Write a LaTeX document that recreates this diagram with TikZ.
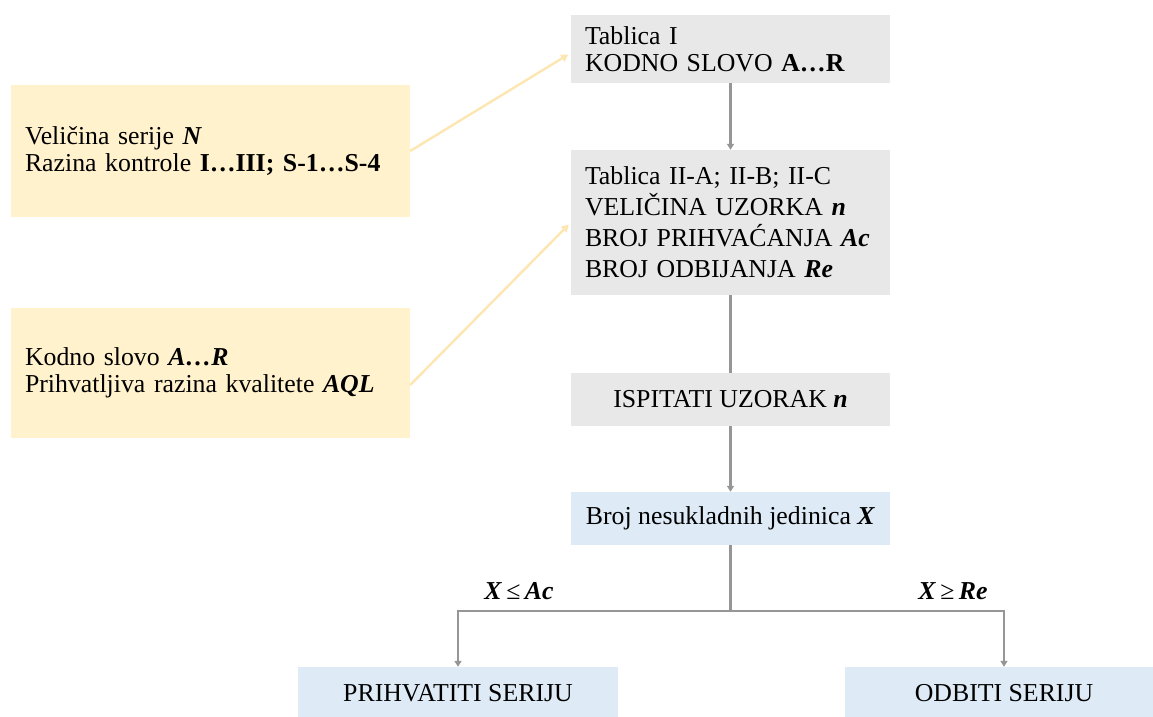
\documentclass[tikz,border=0pt]{standalone}
\usepackage{fontspec}
\setmainfont{Liberation Serif}
\usetikzlibrary{arrows.meta}
\definecolor{yfill}{RGB}{255,242,204}
\definecolor{gfill}{RGB}{232,232,232}
\definecolor{bfill}{RGB}{222,235,247}
\definecolor{lgray}{RGB}{150,150,150}
\definecolor{yarrow}{RGB}{253,230,178}
\newcommand{\bi}[1]{\textbf{\textit{#1}}}
\tikzset{
  base/.style={rectangle, inner ysep=0pt, font=\fontsize{25.8}{27}\selectfont, text=black},
  ybox/.style={base, fill=yfill, minimum height=#1, text width=371pt, inner xsep=14pt, align=left},
  gleft/.style={base, fill=gfill, minimum height=#1, text width=291pt, inner xsep=14pt, align=left},
  gbox/.style={base, fill=gfill, minimum height=53pt, minimum width=319pt, inner xsep=0pt},
  bbox/.style={base, fill=bfill, minimum height=53pt, minimum width=#1, inner xsep=0pt},
  conn/.style={draw=lgray, line width=2.2pt},
  arr/.style={conn, -{Triangle[width=7pt,length=6pt]}},
  yarr/.style={draw=yarrow, line width=2.4pt, -{Triangle[width=8pt,length=7pt]}},
  lbl/.style={font=\fontsize{25.8}{27}\selectfont, inner sep=0pt}
}
\begin{document}
\begin{tikzpicture}[x=1pt,y=-1pt]
\useasboundingbox (0,0) rectangle (1153,716);
% left input boxes
\node[ybox=132pt] (y1) at (210.5,151) {Veličina serije \bi{N}\\Razina kontrole \textbf{I…III; S-1…S-4}};
\node[ybox=130pt] (y2) at (210.5,373) {Kodno slovo \bi{A…R}\\Prihvatljiva razina kvalitete \bi{AQL}};
% main column
\node[gleft=68pt] (t1) at (730.5,49) {Tablica I\\KODNO SLOVO \textbf{A…R}};
\node[gleft=145pt, font=\fontsize{25.8}{31}\selectfont] (t2) at (730.5,222.5) {Tablica II-A; II-B; II-C\\VELIČINA UZORKA \bi{n}\\BROJ PRIHVAĆANJA \bi{Ac}\\BROJ ODBIJANJA \bi{Re}};
\node[gbox] (isp) at (730.5,399.5) {ISPITATI UZORAK \bi{n}};
\node[bbox=319pt] (broj) at (730.5,518.5) {Broj nesukladnih jedinica \bi{X}};
\node[bbox=320pt] (acc) at (458,693.5) {PRIHVATITI SERIJU};
\node[bbox=318pt] (rej) at (1004,693.5) {ODBITI SERIJU};
\coordinate (split) at (730.5,611);
% connectors
\draw[arr] (t1.south) -- (t2.north);
\draw[conn] (t2.south) -- (isp.north);
\draw[arr] (isp.south) -- (broj.north);
\draw[conn] (broj.south) -- (split);
\draw[arr] (split) -| (acc.north);
\draw[arr] (split) -| (rej.north);
\node[lbl] (lacc) at (519,591) {\bi{X}\,≤\,\bi{Ac}};
\node[lbl] (lrej) at (953,591) {\bi{X}\,≥\,\bi{Re}};
% yellow arrows
\draw[yarr, shorten >=3pt] (y1.east) -- ([yshift=-4pt]t1.west);
\draw[yarr, shorten >=3pt] ([yshift=-12pt]y2.east) -- (t2.west);
\end{tikzpicture}
\end{document}
